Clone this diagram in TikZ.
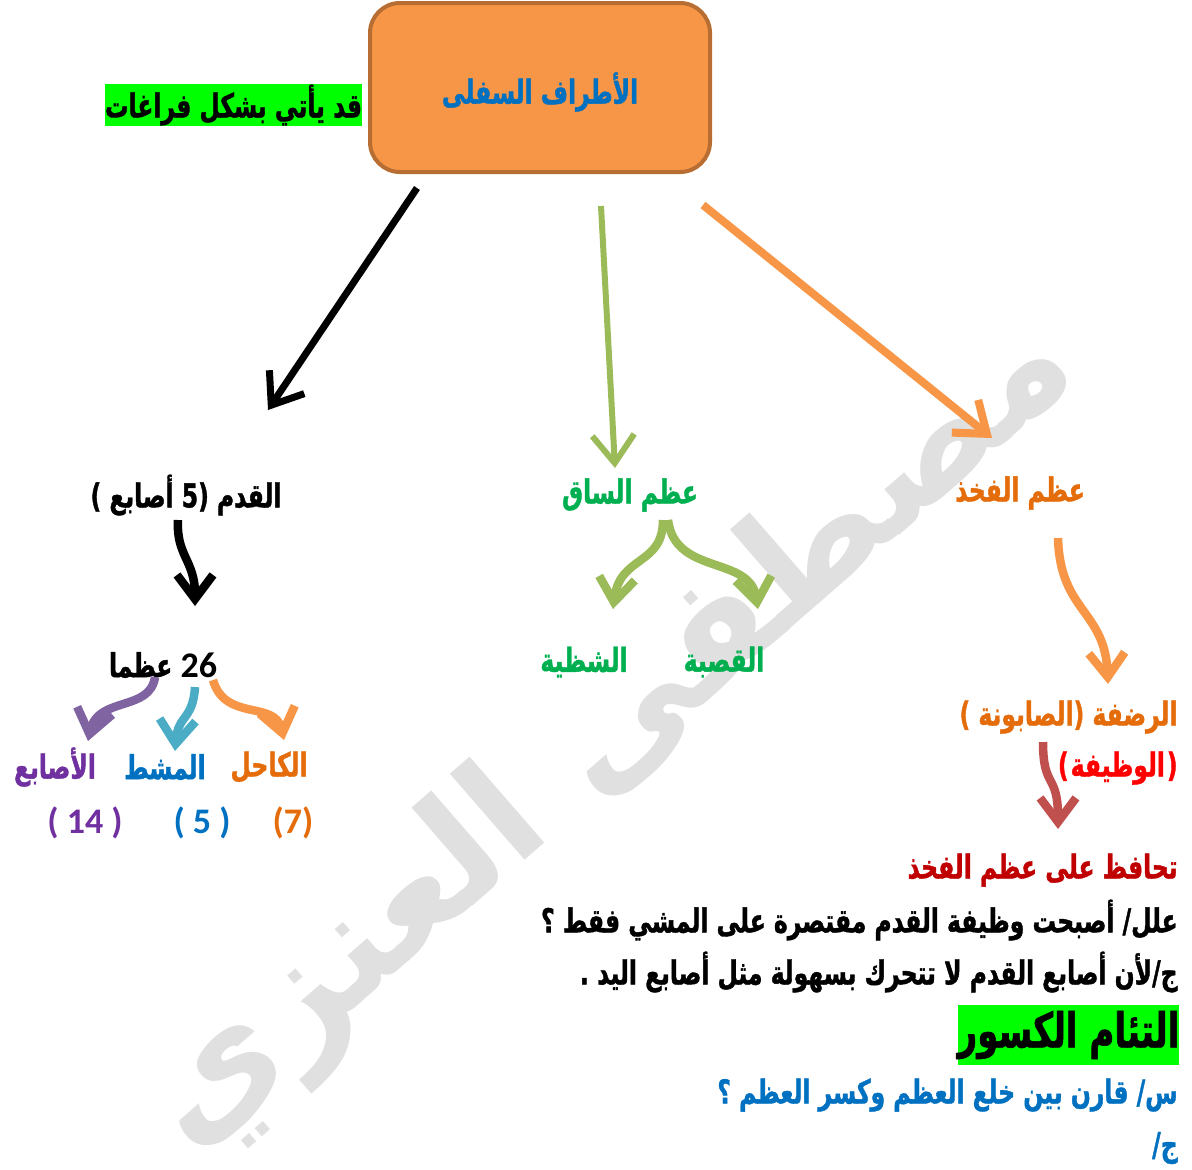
\documentclass[tikz,border=0pt]{standalone}
\usepackage{fontspec}
\usetikzlibrary{arrows.meta}
\setmainfont{Carlito}
\newfontfamily\arabicfont[Script=Arabic,FakeStretch=0.71,BoldFeatures={FakeBold=1.2}]{DejaVu Sans}
\newfontfamily\markfont[Script=Arabic]{DejaVu Sans}
\TeXXeTstate=1
\definecolor{boxfill}{HTML}{F79646}
\definecolor{boxedge}{HTML}{B86E32}
\definecolor{titleblue}{HTML}{0070C0}
\definecolor{hlgreen}{HTML}{00FF00}
\definecolor{leafgreen}{HTML}{9BBB59}
\definecolor{textgreen}{HTML}{00B050}
\definecolor{textorange}{HTML}{E46C0A}
\definecolor{toepurple}{HTML}{7030A0}
\definecolor{arrowpurple}{HTML}{8064A2}
\definecolor{arrowblue}{HTML}{4BACC6}
\definecolor{darkred}{HTML}{C00000}
\definecolor{arrowred}{HTML}{C0504D}
\definecolor{wmgray}{HTML}{E0E0E0}
\newcommand{\ar}[2][16.5]{{\fontsize{#1}{#1}\selectfont\arabicfont\bfseries\beginR #2\endR}}
\newcommand{\brk}{\kern0pt}

\begin{document}
\begin{tikzpicture}[x=.5pt,y=-.5pt,inner sep=0pt,
  bigarrow/.style={line width=3.5pt,-{Straight Barb[length=14pt,width=21pt]}},
  bendarrow/.style={line width=4.25pt,-{Straight Barb[length=12pt,width=18pt]}}]
\useasboundingbox (0,0) rectangle (1192,1169);
% watermark
\node[rotate=41,text=wmgray] (mark) at (610,735) {\fontsize{75}{75}\selectfont\markfont\bfseries\beginR مصطفى العنزي\endR};

\node[draw=boxedge,fill=boxfill,line width=2pt,rounded corners=15pt,minimum width=170pt,minimum height=84.5pt] (limbs) at (540,87.5) {};
\node[text=titleblue] (title) at (540,92) {\ar{الأطراف السفلى}};
\node[fill=hlgreen,minimum width=127.5pt,minimum height=21pt] (blanks) at (233.5,105) {\ar{قد يأتي بشكل فراغات}};

% three branches
\coordinate (b1s) at (417,188); \coordinate (b1e) at (268,410);
\coordinate (b2s) at (601,206); \coordinate (b2e) at (615,468);
\coordinate (b3s) at (703,205); \coordinate (b3e) at (992,438);
\draw[bigarrow,black] (b1s) -- (b1e);
\draw[bigarrow,leafgreen,line width=3pt] (b2s) -- (b2e);
\draw[bigarrow,boxfill,line width=4pt] (b3s) -- (b3e);

\node (foot) at (186,495) {\ar{القدم \hbox{(}\brk 5 أصابع \hbox{)}}};
\node[text=textgreen] (shin) at (630,495) {\ar{عظم الساق}};
\node[text=textorange] (femur) at (1020,493) {\ar{عظم الفخذ}};

% foot
\draw[bendarrow,black] (178,520) .. controls (176,556) and (195,560) .. (195,606);
\node (bones) at (163,665) {\ar{\beginL{\normalfont\bfseries\fontsize{18}{18}\selectfont 26}\endL\ عظما}};
\draw[bendarrow,arrowpurple] (155,677) .. controls (150,712) and (98,696) .. (88,741);
\draw[bendarrow,arrowblue] (195,687) .. controls (193,720) and (178,715) .. (175,751);
\draw[bendarrow,boxfill] (213,680) .. controls (225,722) and (275,700) .. (284,740);
\node[text=toepurple] (toes) at (55,767) {\ar{الأصابع}};
\node[text=titleblue] (meta) at (165,767) {\ar{المشط}};
\node[text=textorange] (tarsal) at (269,767) {\ar{الكاحل}};
\node[text=toepurple,font=\bfseries\fontsize{18}{18}\selectfont] (n14) at (85,823) {( 14 )};
\node[text=titleblue,font=\bfseries\fontsize{18}{18}\selectfont] (n5) at (202,823) {( 5 )};
\node[text=textorange,font=\bfseries\fontsize{18}{18}\selectfont] (n7) at (293,823) {(7)};

% shin
\draw[bendarrow,leafgreen] (663,520) .. controls (663,566) and (620,555) .. (613,609);
\draw[bendarrow,leafgreen] (668,520) .. controls (675,576) and (750,555) .. (758,609);
\node[text=textgreen] (fibula) at (584,662) {\ar{الشظية}};
\node[text=textgreen] (tibia) at (724,662) {\ar{القصبة}};

% femur
\draw[bendarrow,boxfill] (1058,538) .. controls (1060,612) and (1105,610) .. (1108,684);
\node[text=textorange,anchor=east] (patella) at (1178,717) {\ar{الرضفة \hbox{(}\brk الصابونة \hbox{)}}};
\node[text=red,anchor=east] (job) at (1178,768) {\ar{\hbox{(}\kern1pt الوظيفة\kern1pt\hbox{)}}};
\draw[bendarrow,arrowred] (1043,742) .. controls (1043,790) and (1058,772) .. (1058,829);
\node[text=darkred,anchor=east] (keeps) at (1178,870) {\ar{تحافظ على عظم الفخذ}};
\node[anchor=east] (why) at (1178,920) {\ar{علل\brk/ أصبحت وظيفة القدم مقتصرة على المشي فقط ؟}};
\node[anchor=east] (because) at (1178,972) {\ar{ج\brk/\brk لأن أصابع القدم لا تتحرك بسهولة مثل أصابع اليد .}};

\node[fill=hlgreen,minimum width=110.5pt,minimum height=30pt] (heal) at (1068.5,1035) {\ar[24]{التئام الكسور}};
\node[text=titleblue,anchor=east] (ask) at (1178,1095) {\ar{س\brk/ قارن بين خلع العظم وكسر العظم ؟}};
\node[text=titleblue,anchor=east] (reply) at (1178,1148) {\ar{ج\brk/}};
\end{tikzpicture}
\end{document}
